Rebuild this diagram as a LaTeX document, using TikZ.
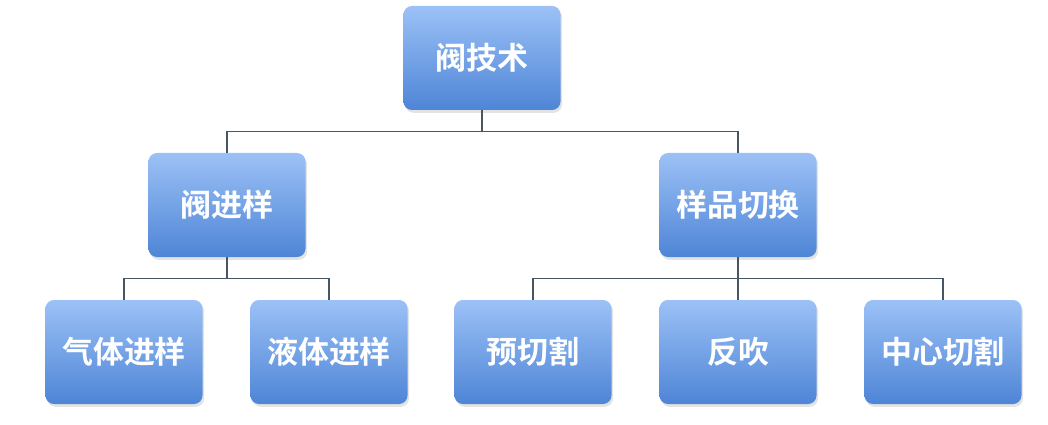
\documentclass[tikz,border=0pt]{standalone}
\usepackage{fontspec}
\newfontfamily\cjk{Noto Sans CJK SC}[BoldFont={Noto Sans CJK SC Bold}]
\usetikzlibrary{shadows,calc}
\definecolor{boxtop}{RGB}{156,193,246}
\definecolor{boxbot}{RGB}{78,133,214}
\definecolor{linkgray}{RGB}{72,86,100}

\begin{document}
\begin{tikzpicture}[
  font=\cjk\bfseries\fontsize{22}{26}\selectfont,
  box/.style={rounded corners=6pt,minimum width=3.925cm,minimum height=2.6cm,
    top color=boxtop,bottom color=boxbot,text=white,inner sep=0pt,
    drop shadow={opacity=0.22,shadow xshift=0.04cm,shadow yshift=-0.07cm}},
  link/.style={linkgray,line width=0.9pt}]

% canvas 1048x425 px at 0.025cm per px
\useasboundingbox (0,0) rectangle (26.2,-10.625);

% ---- level 1 ----
\node[box] (valve) at (12.05,-1.45) {阀技术};

% ---- level 2 ----
\node[box] (inject) at (5.675,-5.125) {阀进样};
\node[box] (switch) at (18.45,-5.125) {样品切换};

% ---- level 3 ----
\node[box] (gas) at (3.1,-8.8) {气体进样};
\node[box] (liquid) at (8.225,-8.8) {液体进样};
\node[box] (precut) at (13.325,-8.8) {预切割};
\node[box] (back) at (18.45,-8.8) {反吹};
\node[box] (heart) at (23.575,-8.8) {中心切割};

% connectors (bus 0.525cm under the parent)
\coordinate (bus1) at ($(valve.south)+(0,-0.525)$);
\draw[link] (valve.south) -- (bus1);
\draw[link] (bus1) -| (inject.north);
\draw[link] (bus1) -| (switch.north);
\coordinate (bus2) at ($(inject.south)+(0,-0.525)$);
\draw[link] (inject.south) -- (bus2);
\draw[link] (bus2) -| (gas.north);
\draw[link] (bus2) -| (liquid.north);
\coordinate (bus3) at ($(switch.south)+(0,-0.525)$);
\draw[link] (switch.south) -- (back.north);
\draw[link] (bus3) -| (precut.north);
\draw[link] (bus3) -| (heart.north);
\end{tikzpicture}
\end{document}
